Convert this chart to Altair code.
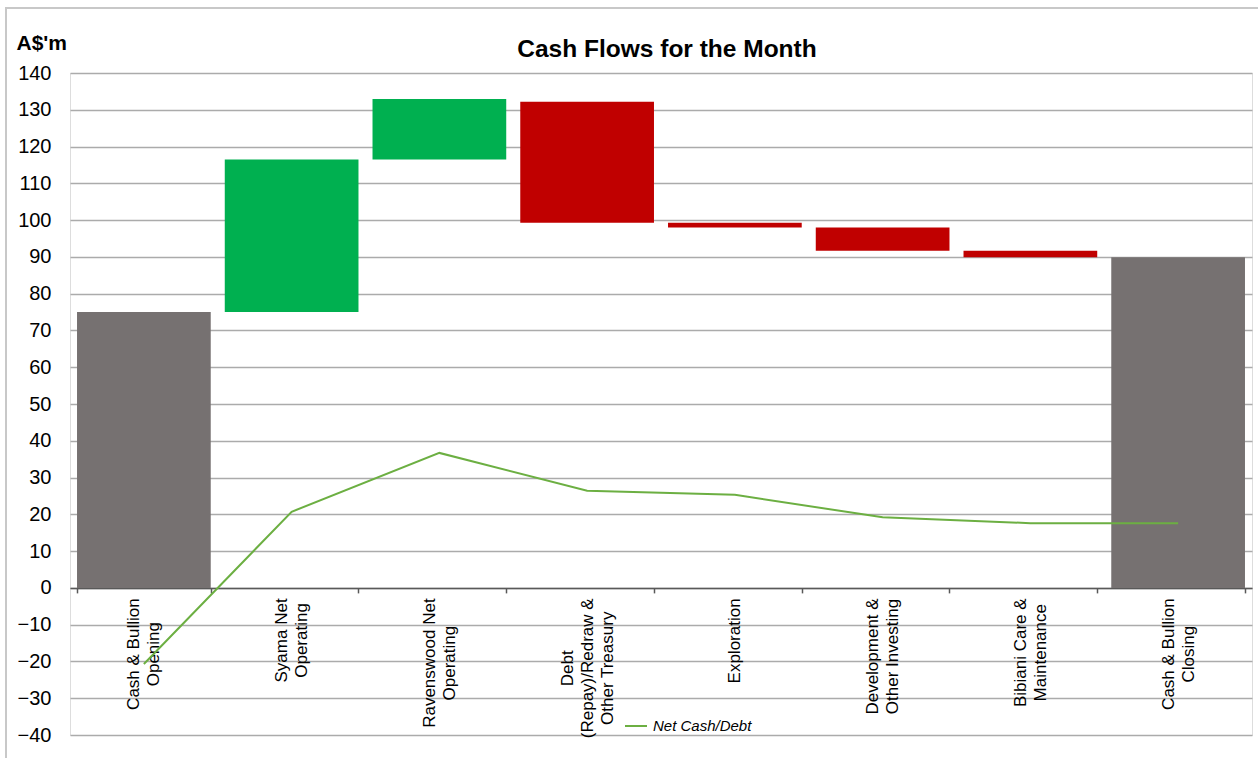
import json
import altair as alt
import pandas as pd

categories = [
    "Cash & Bullion\nOpening",
    "Syama Net\nOperating",
    "Ravenswood Net\nOperating",
    "Debt\n(Repay)/Redraw &\nOther Treasury",
    "Exploration",
    "Development &\nOther Investing",
    "Bibiani Care &\nMaintenance",
    "Cash & Bullion\nClosing",
]
bar_start = [0, 75.0, 116.5, 132.2, 99.3, 98.0, 91.7, 0]
bar_end = [75.0, 116.5, 132.9, 99.3, 98.0, 91.7, 89.9, 89.9]
bar_kind = ["Total", "Increase", "Increase", "Decrease", "Decrease", "Decrease", "Decrease", "Total"]
net_cash_debt = [-20.7, 20.7, 36.7, 26.4, 25.3, 19.2, 17.6, 17.6]
series_name = "Net Cash/Debt"
chart_title = "Cash Flows for the Month"
y_ticks = list(range(-40, 141, 10))
y_domain = [-40, 140]

W, H = 1182, 662
FONT = "Liberation Sans"
LABEL_SIZE = 17
LINE_H = 20

# Arial / Liberation Sans advance widths (per 1000 em) for centring the rotated label blocks
ADV = {
    " ": 278, "&": 667, "(": 333, ")": 333, "/": 278,
    "B": 667, "C": 722, "D": 722, "E": 667, "I": 278, "M": 833, "N": 722, "O": 778,
    "R": 722, "S": 667, "T": 611,
    "a": 556, "b": 556, "c": 500, "d": 556, "e": 556, "g": 556, "h": 556, "i": 222,
    "l": 222, "m": 833, "n": 556, "o": 556, "p": 556, "r": 333, "s": 500, "t": 278,
    "u": 556, "v": 500, "w": 722, "x": 500, "y": 500,
}


def text_width(s):
    return sum(ADV.get(c, 556) for c in s) / 1000 * LABEL_SIZE


pad_conditions = []
offset_conditions = []
for cat in categories:
    lines = cat.split("\n")
    test = "datum.value == " + json.dumps(cat)
    pad_conditions.append({"test": test, "value": 5 + max(text_width(l) for l in lines) / 2})
    offset_conditions.append({"test": test, "value": -(len(lines) - 1) * LINE_H / 2})

bars_df = pd.DataFrame({"category": categories, "start": bar_start, "end": bar_end, "kind": bar_kind})
line_df = pd.DataFrame({"category": categories, "net": net_cash_debt, "series": [series_name] * len(categories)})

x_offset = -H * (0 - y_domain[0]) / (y_domain[1] - y_domain[0])

x_enc = alt.X(
    "category:N",
    sort=categories,
    scale=alt.Scale(paddingInner=0.095, paddingOuter=0.0475),
    axis=alt.Axis(
        title=None,
        labelAngle=270,
        labelAlign="center",
        labelBaseline="middle",
        labelFont=FONT,
        labelFontSize=LABEL_SIZE,
        labelColor="#000000",
        labelLineHeight=LINE_H,
        labelExpr="split(datum.label, '\\n')",
        labelLimit=0,
        labelOverlap=False,
        labelPadding={"condition": pad_conditions, "value": 5},
        labelOffset={"condition": offset_conditions, "value": 0},
        domainColor="#595959",
        domainWidth=1.5,
        tickColor="#595959",
        tickWidth=1.5,
        tickSize=5,
        tickBand="extent",
        grid=False,
        offset=x_offset,
    ),
)

y_axis = alt.Axis(
    values=y_ticks,
    title="A$'m",
    titleAngle=0,
    titleAlign="left",
    titleBaseline="alphabetic",
    titleX=-54,
    titleY=-24,
    titleFont=FONT,
    titleFontSize=21,
    titleFontWeight="bold",
    titleColor="#000000",
    labelFont=FONT,
    labelFontSize=20,
    labelColor="#000000",
    labelPadding=19,
    ticks=False,
    domain=False,
    grid=True,
    gridColor="#ABABAB",
    gridWidth=1.5,
)

y_scale = alt.Scale(domain=y_domain, nice=False, zero=False)

bars = alt.Chart(bars_df).mark_bar().encode(
    x=x_enc,
    y=alt.Y("start:Q", scale=y_scale, axis=y_axis),
    y2="end:Q",
    color=alt.Color(
        "kind:N",
        scale=alt.Scale(domain=["Total", "Increase", "Decrease"], range=["#767171", "#00B050", "#C00000"]),
        legend=None,
    ),
)

line = alt.Chart(line_df).mark_line(strokeWidth=2).encode(
    x=x_enc,
    y=alt.Y("net:Q", scale=y_scale, axis=y_axis),
    stroke=alt.Stroke(
        "series:N",
        scale=alt.Scale(domain=[series_name], range=["#6CAF42"]),
        legend=alt.Legend(
            title=None,
            orient="none",
            legendX=554,
            legendY=641,
            symbolType="stroke",
            symbolStrokeWidth=2,
            symbolSize=484,
            labelOffset=5,
            labelFont=FONT,
            labelFontSize=15,
            labelFontStyle="italic",
            labelColor="#000000",
        ),
    ),
)

frame = alt.Chart(pd.DataFrame({"frame": [0]})).mark_rect(
    fill="transparent", stroke="#C8C8C8", strokeWidth=2, clip=False
).encode(
    x=alt.value(-64), x2=alt.value(W + 40), y=alt.value(-65), y2=alt.value(H + 60)
)

title = alt.Chart(pd.DataFrame({"t": [chart_title]})).mark_text(
    font=FONT, fontSize=24.5, fontWeight="bold", color="#000000",
    align="center", baseline="alphabetic", clip=False,
).encode(
    text="t:N", x=alt.value(W / 2 + 6), y=alt.value(-16)
)

chart = alt.layer(frame, bars, line, title).properties(
    width=W,
    height=H,
    padding={"left": 70, "top": 73, "right": 6, "bottom": 23},
    autosize=alt.AutoSizeParams(type="none"),
).configure_view(stroke="#A6A6A6", strokeWidth=1.5).configure(background="white")

chart.save("out.html", embed_options={"renderer": "svg", "actions": False})
